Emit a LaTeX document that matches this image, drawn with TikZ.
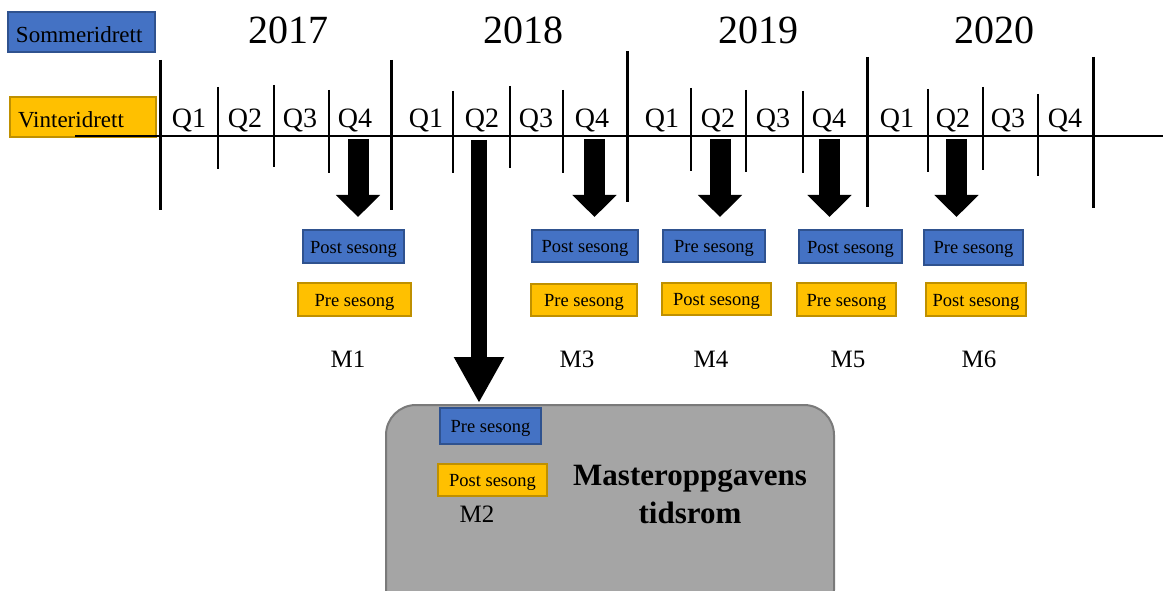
\documentclass[tikz,border=0pt]{standalone}
\usepackage{fontspec}
\setmainfont{Liberation Serif}
\usetikzlibrary{arrows.meta}
\definecolor{sblue}{HTML}{4472C4}
\definecolor{sblueD}{HTML}{2F528F}
\definecolor{wyel}{HTML}{FFC000}
\definecolor{wyelD}{HTML}{BF9000}
\definecolor{gbox}{HTML}{A5A5A5}
\definecolor{gboxD}{HTML}{7A7A7A}
\begin{document}
\begin{tikzpicture}[x=1pt,y=-1pt,
  legS/.style={draw=sblueD, fill=sblue, line width=2pt, minimum width=147pt, minimum height=40pt, inner sep=0pt, text width=131pt, align=left, text height=22pt, text depth=0pt, font=\fontsize{23}{27}\selectfont},
  legW/.style={draw=wyelD, fill=wyel, line width=2pt, minimum width=146pt, minimum height=40pt, inner sep=0pt, text width=130pt, align=left, text height=22pt, text depth=0pt, font=\fontsize{23}{27}\selectfont},
  blu/.style={draw=sblueD, fill=sblue, line width=1.8pt, inner sep=0pt, text height=13pt, text depth=0pt, font=\fontsize{18.5}{21}\selectfont},
  yel/.style={draw=wyelD, fill=wyel, line width=1.8pt, inner sep=0pt, text height=13pt, text depth=0pt, font=\fontsize{18.5}{21}\selectfont},
  yearlbl/.style={font=\fontsize{40}{44}\selectfont, anchor=base, inner sep=0pt},
  qlbl/.style={font=\fontsize{28}{31}\selectfont, anchor=base, inner sep=0pt},
  mlbl/.style={font=\fontsize{25}{28}\selectfont, anchor=base, inner sep=0pt},
  yeardiv/.style={line width=3pt},
  qtick/.style={line width=2pt},
  bigarrow/.style={line width=21pt, -{Triangle[length=22pt,width=43pt]}},
  longarrow/.style={line width=16pt, -{Triangle[length=46pt,width=47pt]}},
  greybox/.style={draw=gboxD, fill=gbox, line width=2pt, rounded corners=30pt, minimum width=448pt, minimum height=215pt, inner sep=0pt}
]
\clip (0,0) rectangle (1163,591);
\fill[white] (0,0) rectangle (1163,591);

% legend
\node[legS] (som) at (81.5,32) {Sommeridrett};
\node[legW] (vin) at (83,117) {Vinteridrett};

% timeline
\coordinate (tl0) at (75,136);
\coordinate (tl1) at (1163,136);
\draw[line width=1.3pt] (tl0) -- (tl1);

% year dividers
\foreach \x/\a/\b in {160/60/210, 391/60/210, 627/51/202, 867/57/207, 1093/57/208}
  \draw[yeardiv] (\x,\a) -- (\x,\b);
% quarter ticks
\foreach \x/\a/\b in {218/87/169, 274/85/167, 329/90/173, 453/91/173, 510/86/168, 563/90/173, 691/88/171, 746/90/172, 803/91/173, 928/89/172, 983/87/170, 1038/94/176}
  \draw[qtick] (\x,\a) -- (\x,\b);

% years
\node[yearlbl] (y17) at (288,44) {2017};
\node[yearlbl] (y18) at (523,44) {2018};
\node[yearlbl] (y19) at (758,44) {2019};
\node[yearlbl] (y20) at (994,44) {2020};

% quarters
\foreach \x/\q [count=\i] in {189/1,245/2,300/3,355/4, 426/1,482/2,536/3,592/4, 662/1,718/2,773/3,829/4, 897/1,953/2,1008/3,1065/4}
  \node[qlbl] (q\i) at (\x,128) {Q\q};

% arrows
\foreach \x [count=\i] in {358,594.5,720,829.5,956.5}{
  \coordinate (as\i) at (\x,139);
  \coordinate (ae\i) at (\x,217);
  \draw[bigarrow] (as\i) -- (ae\i);
}
\coordinate (ls) at (479,140);
\coordinate (le) at (479,403);

% grey box
\node[greybox] (master) at (610,512.5) {};

\draw[longarrow] (ls) -- (le);

% season boxes
\node[blu, minimum width=101pt, minimum height=33pt] (m1b) at (353.5,246.5) {Post sesong};
\node[yel, minimum width=113pt, minimum height=33pt] (m1y) at (354.5,299.5) {Pre sesong};
\node[mlbl] (m1) at (348,367) {M1};

\node[blu, minimum width=106pt, minimum height=32pt] (m3b) at (585,246) {Post sesong};
\node[yel, minimum width=106pt, minimum height=32pt] (m3y) at (584,300) {Pre sesong};
\node[mlbl] (m3) at (577,367) {M3};

\node[blu, minimum width=102pt, minimum height=32pt] (m4b) at (714,246) {Pre sesong};
\node[yel, minimum width=109pt, minimum height=32pt] (m4y) at (716.5,299) {Post sesong};
\node[mlbl] (m4) at (711,367) {M4};

\node[blu, minimum width=103pt, minimum height=33pt] (m5b) at (850.5,246.5) {Post sesong};
\node[yel, minimum width=99pt, minimum height=33pt] (m5y) at (846.5,299.5) {Pre sesong};
\node[mlbl] (m5) at (848,367) {M5};

\node[blu, minimum width=99pt, minimum height=35pt] (m6b) at (973.5,247.5) {Pre sesong};
\node[yel, minimum width=100pt, minimum height=33pt] (m6y) at (976,299.5) {Post sesong};
\node[mlbl] (m6) at (979,367) {M6};

\node[blu, minimum width=101pt, minimum height=36pt] (m2b) at (490.5,426) {Pre sesong};
\node[yel, minimum width=109pt, minimum height=32pt] (m2y) at (492.5,480) {Post sesong};
\node[mlbl] (m2) at (477,522) {M2};

\node[font=\bfseries\fontsize{31}{38}\selectfont, align=center, inner sep=0pt] (mt) at (690,494) {Masteroppgavens\\tidsrom};
\end{tikzpicture}
\end{document}
